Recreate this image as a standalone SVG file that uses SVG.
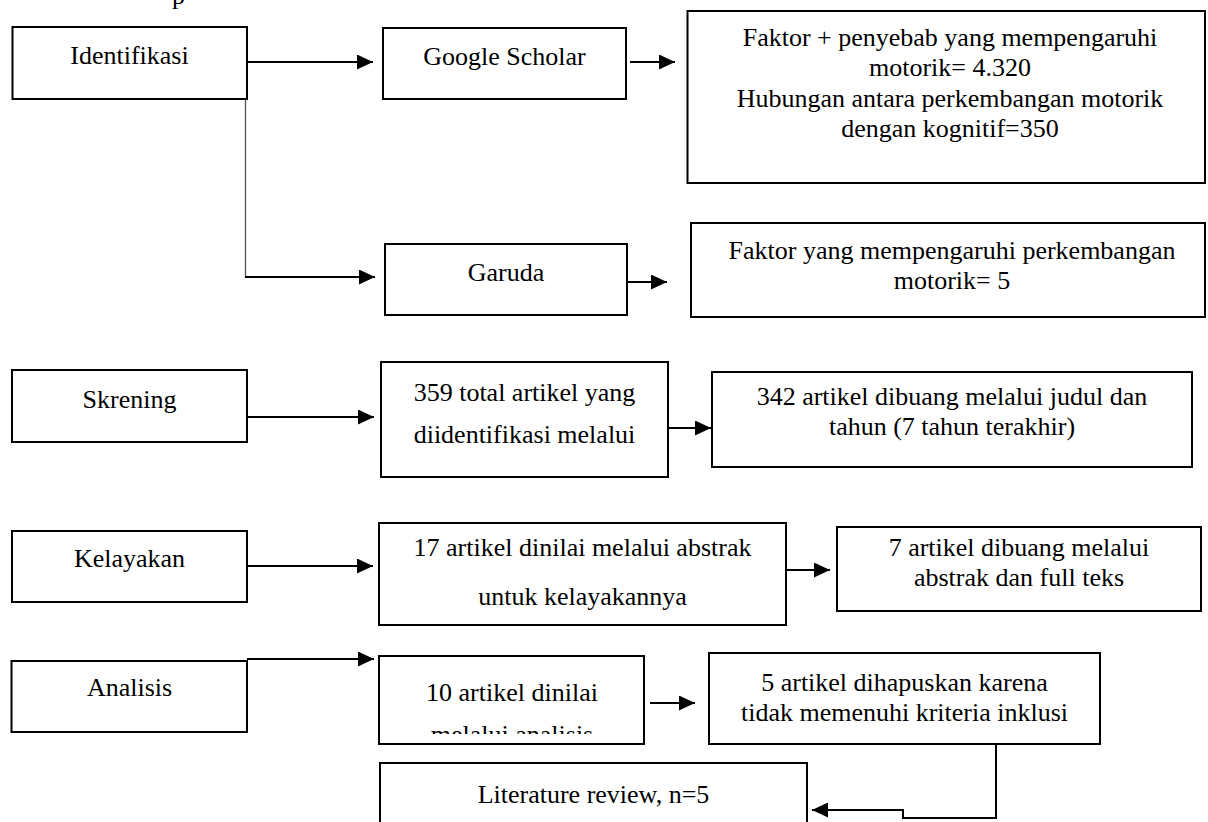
<svg xmlns="http://www.w3.org/2000/svg" width="1208" height="822" viewBox="0 0 1208 822" font-family="Liberation Serif, DejaVu Serif, serif">
  <style>
    .box { fill: #fff; stroke: #000; stroke-width: 2; }
    .t { font-family: 'Liberation Serif', 'DejaVu Serif', serif; font-size: 26px; fill: #000; text-anchor: middle; }
    .conn { fill: none; stroke: #000; stroke-width: 2; }
    .thin { fill: none; stroke: #555; stroke-width: 1.3; }
  </style>
  <defs>
    <marker id="ah" viewBox="0 0 16 15" refX="16" refY="7.5" markerWidth="16" markerHeight="15" markerUnits="userSpaceOnUse" orient="auto">
      <path d="M0,0 L16,7.5 L0,15 z" fill="#000"/>
    </marker>
    <clipPath id="clip10">
      <rect x="380" y="656" width="264" height="78"/>
    </clipPath>
  </defs>
  <rect width="1208" height="822" fill="#fff"/>

  <text class="t" x="172" y="4" style="text-anchor:start">p</text>

  <g id="connectors">
    <path class="thin" d="M245.5,62 V277"/>
    <path class="conn" d="M245,62 H373" marker-end="url(#ah)"/>
    <path class="conn" d="M245,277 H375" marker-end="url(#ah)"/>
    <path class="conn" d="M630,62 H675" marker-end="url(#ah)"/>
    <path class="conn" d="M623,282 H667" marker-end="url(#ah)"/>
    <path class="conn" d="M247,417 H374" marker-end="url(#ah)"/>
    <path class="conn" d="M665,428 H711" marker-end="url(#ah)"/>
    <path class="conn" d="M245,566 H373" marker-end="url(#ah)"/>
    <path class="conn" d="M786,570 H830" marker-end="url(#ah)"/>
    <path class="conn" d="M247,659 H374" marker-end="url(#ah)"/>
    <path class="conn" d="M650,703 H695" marker-end="url(#ah)"/>
    <path class="conn" d="M996,744 V818 H903 V810 H812" marker-end="url(#ah)"/>
  </g>

  <g id="identifikasi">
    <rect class="box" x="12.5" y="27" width="234.5" height="72"/>
    <text class="t" x="129.5" y="64">Identifikasi</text>
  </g>
  <g id="google-scholar">
    <rect class="box" x="383" y="28" width="243" height="71"/>
    <text class="t" x="504.5" y="65">Google Scholar</text>
  </g>
  <g id="gs-result">
    <rect class="box" x="687.5" y="11" width="517.5" height="172"/>
    <text class="t" x="950" y="46">Faktor + penyebab yang mempengaruhi</text>
    <text class="t" x="950" y="76">motorik= 4.320</text>
    <text class="t" x="950" y="107">Hubungan antara perkembangan motorik</text>
    <text class="t" x="950" y="137">dengan kognitif=350</text>
  </g>
  <g id="garuda">
    <rect class="box" x="385" y="244" width="242" height="71"/>
    <text class="t" x="506" y="281">Garuda</text>
  </g>
  <g id="garuda-result">
    <rect class="box" x="691" y="223" width="514" height="94"/>
    <text class="t" x="952" y="259">Faktor yang mempengaruhi perkembangan</text>
    <text class="t" x="952" y="289">motorik= 5</text>
  </g>

  <g id="skrening">
    <rect class="box" x="12" y="370" width="235" height="72"/>
    <text class="t" x="129.5" y="408">Skrening</text>
  </g>
  <g id="total359">
    <rect class="box" x="381" y="362" width="287" height="115"/>
    <text class="t" x="524.5" y="401">359 total artikel yang</text>
    <text class="t" x="524.5" y="443">diidentifikasi melalui</text>
  </g>
  <g id="dibuang342">
    <rect class="box" x="712" y="372" width="480" height="95"/>
    <text class="t" x="952" y="405">342 artikel dibuang melalui judul dan</text>
    <text class="t" x="952" y="435">tahun (7 tahun terakhir)</text>
  </g>

  <g id="kelayakan">
    <rect class="box" x="12" y="531" width="235" height="71"/>
    <text class="t" x="129.5" y="567">Kelayakan</text>
  </g>
  <g id="abstrak17">
    <rect class="box" x="379" y="523" width="407" height="102"/>
    <text class="t" x="582.5" y="556">17 artikel dinilai melalui abstrak</text>
    <text class="t" x="582.5" y="605">untuk kelayakannya</text>
  </g>
  <g id="dibuang7">
    <rect class="box" x="837" y="527" width="364" height="84"/>
    <text class="t" x="1019" y="556">7 artikel dibuang melalui</text>
    <text class="t" x="1019" y="586">abstrak dan full teks</text>
  </g>

  <g id="analisis">
    <rect class="box" x="11.5" y="661" width="235.5" height="71"/>
    <text class="t" x="129.5" y="696">Analisis</text>
  </g>
  <g id="analisis10">
    <rect class="box" x="379" y="656" width="265" height="88"/>
    <text class="t" x="512" y="701">10 artikel dinilai</text>
    <text class="t" x="512" y="743" clip-path="url(#clip10)">melalui analisis</text>
  </g>
  <g id="dihapus5">
    <rect class="box" x="709" y="653" width="391" height="91"/>
    <text class="t" x="904.5" y="691">5 artikel dihapuskan karena</text>
    <text class="t" x="904.5" y="721">tidak memenuhi kriteria inklusi</text>
  </g>
  <g id="literature">
    <rect class="box" x="380" y="763" width="427" height="80"/>
    <text class="t" x="593.5" y="803">Literature review, n=5</text>
  </g>
</svg>
